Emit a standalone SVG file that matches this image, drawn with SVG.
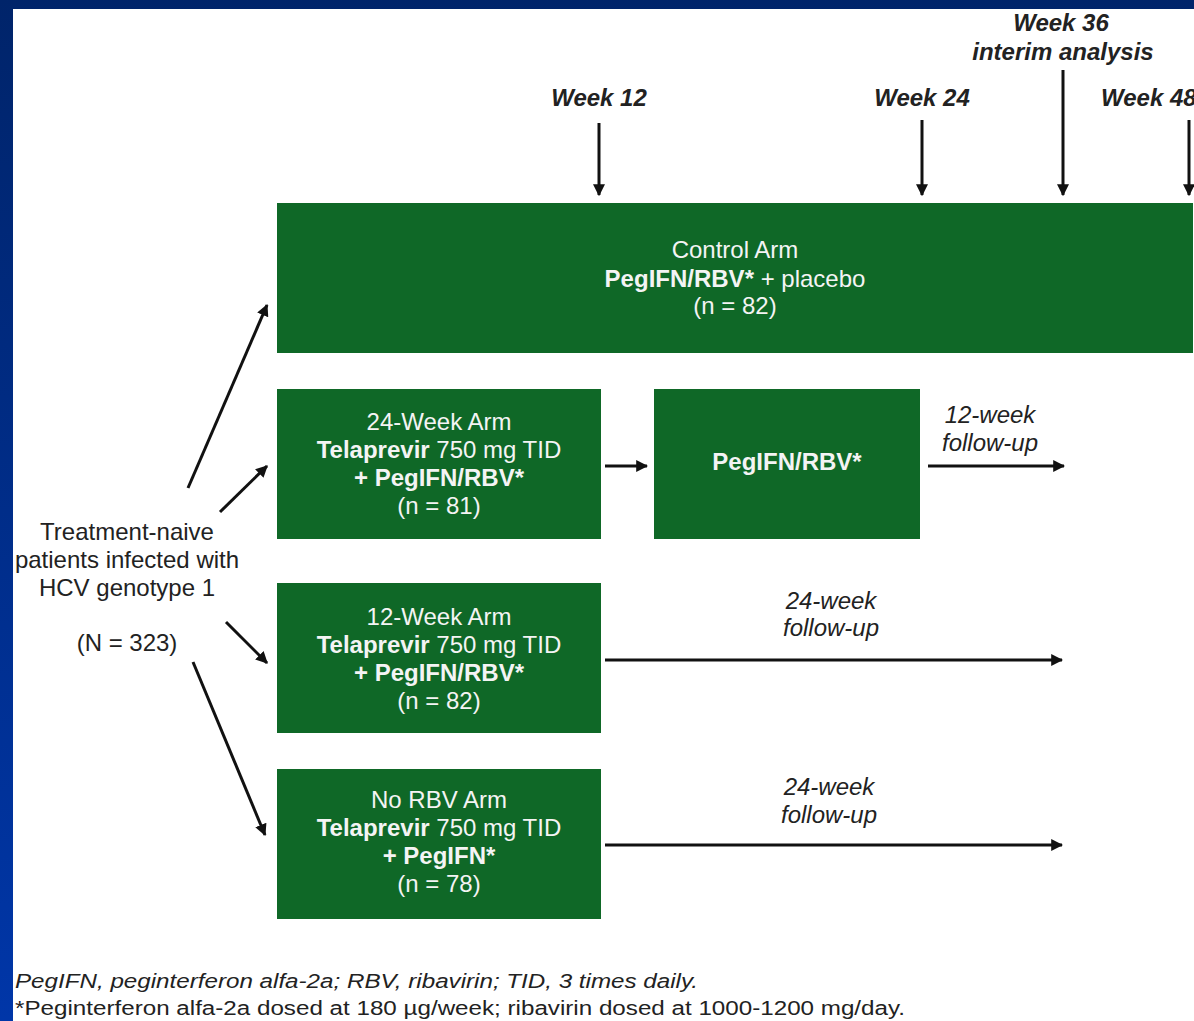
<svg xmlns="http://www.w3.org/2000/svg" width="1194" height="1021" viewBox="0 0 1194 1021">
<defs>
<linearGradient id="bg" x1="0" y1="0" x2="0" y2="1">
<stop offset="0" stop-color="#00246A"/>
<stop offset="1" stop-color="#0036A8"/>
</linearGradient>
<marker id="ah" viewBox="0 0 10 10" refX="9" refY="5" markerWidth="12" markerHeight="12" markerUnits="userSpaceOnUse" orient="auto">
<path d="M0,0 L10,5 L0,10 z" fill="#111"/>
</marker>
<style>
.box{fill:#0F6827;}
.wt{fill:#F4F4F4;font-family:"Liberation Sans",Arial,sans-serif;font-size:24px;text-anchor:middle;}
.b{font-weight:bold;}
.dk{fill:#222;font-family:"Liberation Sans",Arial,sans-serif;font-size:24px;text-anchor:middle;}
.wk{font-weight:bold;font-style:italic;}
.it{font-style:italic;}
.fn{fill:#222;font-family:"Liberation Sans",Arial,sans-serif;font-size:20px;font-style:italic;}
.ar{stroke:#111;stroke-width:3;fill:none;marker-end:url(#ah);}
</style>
</defs>
<rect x="0" y="0" width="1194" height="1021" fill="url(#bg)"/>
<rect x="13" y="9" width="1181" height="1012" fill="#FFFFFF"/>

<g id="timeline-labels">
<text class="dk wk" x="599" y="106">Week 12</text>
<text class="dk wk" x="922" y="106">Week 24</text>
<text class="dk wk" x="1061" y="31">Week 36</text>
<text class="dk wk" x="1063" y="60">interim analysis</text>
<text class="dk wk" x="1101" y="106" style="text-anchor:start">Week 48</text>
</g>

<g id="connectors">
<line class="ar" x1="599" y1="123" x2="599" y2="195"/>
<line class="ar" x1="922" y1="120" x2="922" y2="195"/>
<line class="ar" x1="1063" y1="70" x2="1063" y2="195"/>
<line class="ar" x1="1189" y1="120" x2="1189" y2="195"/>
<line class="ar" x1="188" y1="488" x2="267" y2="305"/>
<line class="ar" x1="220" y1="512" x2="267" y2="466"/>
<line class="ar" x1="226" y1="622" x2="267" y2="663"/>
<line class="ar" x1="193" y1="662" x2="265" y2="835"/>
<line class="ar" x1="605" y1="466" x2="647" y2="466"/>
<line class="ar" x1="928" y1="466" x2="1064" y2="466"/>
<line class="ar" x1="605" y1="660" x2="1062" y2="660"/>
<line class="ar" x1="605" y1="845" x2="1062" y2="845"/>
</g>

<g id="source">
<text class="dk" x="127" y="540">Treatment-naive</text>
<text class="dk" x="127" y="568">patients infected with</text>
<text class="dk" x="127" y="596">HCV genotype 1</text>
<text class="dk" x="127" y="651">(N = 323)</text>
</g>

<g id="control-arm">
<rect class="box" x="277" y="203" width="916" height="150"/>
<text class="wt" x="735" y="258">Control Arm</text>
<text class="wt" x="735" y="287"><tspan class="b">PegIFN/RBV*</tspan> + placebo</text>
<text class="wt" x="735" y="314">(n = 82)</text>
</g>

<g id="arm-24week">
<rect class="box" x="277" y="389" width="324" height="150"/>
<text class="wt" x="439" y="430">24-Week Arm</text>
<text class="wt" x="439" y="458"><tspan class="b">Telaprevir</tspan> 750 mg TID</text>
<text class="wt b" x="439" y="486">+ PegIFN/RBV*</text>
<text class="wt" x="439" y="514">(n = 81)</text>
</g>

<g id="pegifn-rbv">
<rect class="box" x="654" y="389" width="266" height="150"/>
<text class="wt b" x="787" y="470">PegIFN/RBV*</text>
</g>

<g id="arm-12week">
<rect class="box" x="277" y="583" width="324" height="150"/>
<text class="wt" x="439" y="625">12-Week Arm</text>
<text class="wt" x="439" y="653"><tspan class="b">Telaprevir</tspan> 750 mg TID</text>
<text class="wt b" x="439" y="681">+ PegIFN/RBV*</text>
<text class="wt" x="439" y="709">(n = 82)</text>
</g>

<g id="arm-norbv">
<rect class="box" x="277" y="769" width="324" height="150"/>
<text class="wt" x="439" y="808">No RBV Arm</text>
<text class="wt" x="439" y="836"><tspan class="b">Telaprevir</tspan> 750 mg TID</text>
<text class="wt b" x="439" y="864">+ PegIFN*</text>
<text class="wt" x="439" y="892">(n = 78)</text>
</g>

<g id="followup-labels">
<text class="dk it" x="990" y="423">12-week</text>
<text class="dk it" x="990" y="451">follow-up</text>
<text class="dk it" x="831" y="609">24-week</text>
<text class="dk it" x="831" y="636">follow-up</text>
<text class="dk it" x="829" y="795">24-week</text>
<text class="dk it" x="829" y="823">follow-up</text>
</g>

<g id="footnotes">
<text class="fn" x="15" y="988" textLength="683" lengthAdjust="spacingAndGlyphs">PegIFN, peginterferon alfa-2a; RBV, ribavirin; TID, 3 times daily.</text>
<text class="fn" x="15" y="1015" style="font-style:normal" textLength="890" lengthAdjust="spacingAndGlyphs">*Peginterferon alfa-2a dosed at 180 µg/week; ribavirin dosed at 1000-1200 mg/day.</text>
</g>
</svg>
